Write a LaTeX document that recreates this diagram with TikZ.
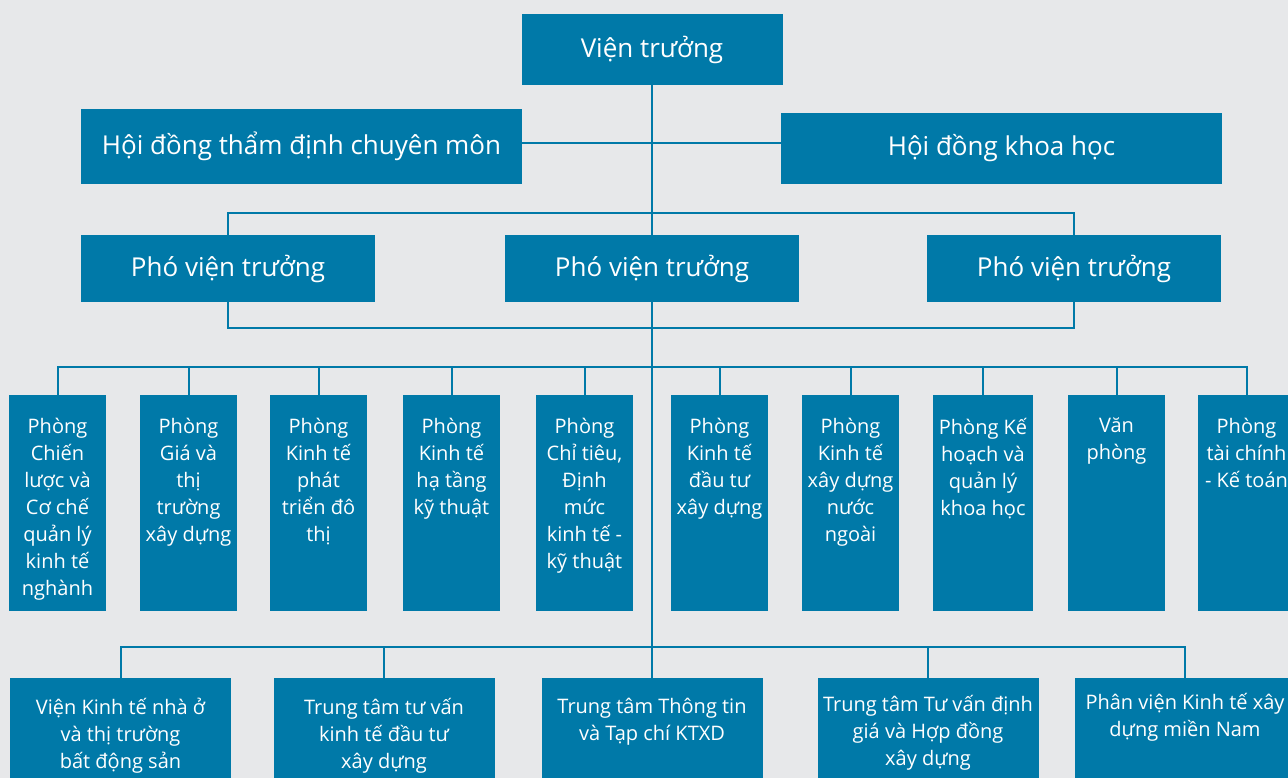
\documentclass[tikz,border=0pt]{standalone}
\usepackage{fontspec}
\setmainfont{Open Sans}
\usetikzlibrary{positioning}
\definecolor{boxblue}{RGB}{0,121,168}
\definecolor{pagegray}{RGB}{231,232,234}
\tikzset{every picture/.style={line width=0.75pt}}
\tikzset{
  bigbox/.style={fill=boxblue, text=white, inner sep=0pt, align=center, font=\fontsize{26}{31}\selectfont},
  deptbox/.style={fill=boxblue, inner sep=0pt, minimum width=97pt, minimum height=216pt},
  centbox/.style={fill=boxblue, inner sep=0pt, minimum width=221pt, minimum height=130pt},
  boxtext/.style={text=white, inner sep=0pt, align=center, anchor=north, font=\fontsize{20}{27}\selectfont},
  link/.style={draw=boxblue, line width=2pt},
}

\begin{document}
\begin{tikzpicture}[x=1pt,y=1pt,yscale=-1,xscale=1]
\useasboundingbox (0,0) rectangle (1288,778);
\fill[pagegray] (0,0) rectangle (1288,778);
\clip (0,0) rectangle (1288,778);

%Shape: Rectangle [Viện trưởng]
\node[bigbox, minimum width=261pt, minimum height=71pt] (vt) at (652,49.5) {Viện trưởng};
%Shape: Rectangle [Hội đồng]
\node[bigbox, minimum width=441pt, minimum height=75pt] (hdtd) at (301.5,146.5) {Hội đồng thẩm định chuyên môn};
\node[bigbox, minimum width=441pt, minimum height=71pt] (hdkh) at (1001.5,148.5) {Hội đồng khoa học};
%Shape: Rectangle [Phó viện trưởng]
\node[bigbox, minimum width=294pt, minimum height=67pt] (pvt1) at (228,268.5) {Phó viện trưởng};
\node[bigbox, minimum width=294pt, minimum height=67pt] (pvt2) at (652,268.5) {Phó viện trưởng};
\node[bigbox, minimum width=294pt, minimum height=67pt] (pvt3) at (1074,268.5) {Phó viện trưởng};

%Shape: Rectangle [Phòng]
\node[deptbox] (ph1) at (57.5,503) {};
\node[deptbox] (ph2) at (188.5,503) {};
\node[deptbox] (ph3) at (318.5,503) {};
\node[deptbox] (ph4) at (451.5,503) {};
\node[deptbox] (ph5) at (584.5,503) {};
\node[deptbox] (ph6) at (719.5,503) {};
\node[deptbox] (ph7) at (850.5,503) {};
\node[deptbox, minimum width=100pt] (ph8) at (983,503) {};
\node[deptbox] (ph9) at (1116.5,503) {};
\node[deptbox] (ph10) at (1246.5,503) {};

% Text Node
\node[boxtext, below=23pt of ph1.north] (tph1) {Phòng\\Chiến\\lược và\\Cơ chế\\quản lý\\kinh tế\\nghành};
\node[boxtext, below=23pt of ph2.north] (tph2) {Phòng\\Giá và\\thị\\trường\\xây dựng};
\node[boxtext, below=23pt of ph3.north] (tph3) {Phòng\\Kinh tế\\phát\\triển đô\\thị};
\node[boxtext, below=23pt of ph4.north] (tph4) {Phòng\\Kinh tế\\hạ tầng\\kỹ thuật};
\node[boxtext, below=23pt of ph5.north] (tph5) {Phòng\\Chỉ tiêu,\\Định\\mức\\kinh tế -\\kỹ thuật};
\node[boxtext, below=23pt of ph6.north] (tph6) {Phòng\\Kinh tế\\đầu tư\\xây dựng};
\node[boxtext, below=23pt of ph7.north] (tph7) {Phòng\\Kinh tế\\xây dựng\\nước\\ngoài};
\node[boxtext, below=23pt of ph8.north] (tph8) {Phòng Kế\\hoạch và\\quản lý\\khoa học};
\node[boxtext, below=23pt of ph9.north] (tph9) {Văn\\phòng};
\node[boxtext, below=23pt of ph10.north] (tph10) {Phòng\\tài chính\\- Kế toán};

%Shape: Rectangle [Trung tâm]
\node[centbox] (tt1) at (120.5,743) {};
\node[centbox] (tt2) at (384,743) {};
\node[centbox] (tt3) at (652,743) {};
\node[centbox] (tt4) at (928,743) {};
\node[centbox] (tt5) at (1185,743) {};

% Text Node
\node[boxtext, below=20pt of tt1.north] (ttt1) {Viện Kinh tế nhà ở\\và thị trường\\bất động sản};
\node[boxtext, below=20pt of tt2.north] (ttt2) {Trung tâm tư vấn\\kinh tế đầu tư\\xây dựng};
\node[boxtext, below=20pt of tt3.north] (ttt3) {Trung tâm Thông tin\\và Tạp chí KTXD};
\node[boxtext, below=17pt of tt4.north] (ttt4) {Trung tâm Tư vấn định\\giá và Hợp đồng\\xây dựng};
\node[boxtext, below=15pt of tt5.north] (ttt5) {Phân viện Kinh tế xây\\dựng miền Nam};

% Bus points
\coordinate (hdj) at (652,143);
\coordinate (pvtop) at (652,213);
\coordinate (pvbot) at (652,328);
\coordinate (phbus) at (652,367);
\coordinate (ttbus) at (652,647);

%Straight Lines
\draw[link] (vt) -- (pvt2);
\draw[link] (pvt2) -- (tt3);
\draw[link] (hdtd.east |- hdj) -- (hdkh.west |- hdj);
\draw[link] (pvt1.north) |- (pvtop) -| (pvt3.north);
\draw[link] (pvt1.south) |- (pvbot) -| (pvt3.south);
\draw[link] (ph1.north) |- (phbus) -| (ph10.north);
\foreach \k in {2,...,9}
  \draw[link] (ph\k.north) -- (ph\k.north |- phbus);
\draw[link] (tt1.north) |- (ttbus) -| (tt5.north);
\draw[link] (tt2.north) -- (tt2.north |- ttbus);
\draw[link] (tt4.north) -- (tt4.north |- ttbus);

\end{tikzpicture}
\end{document}
